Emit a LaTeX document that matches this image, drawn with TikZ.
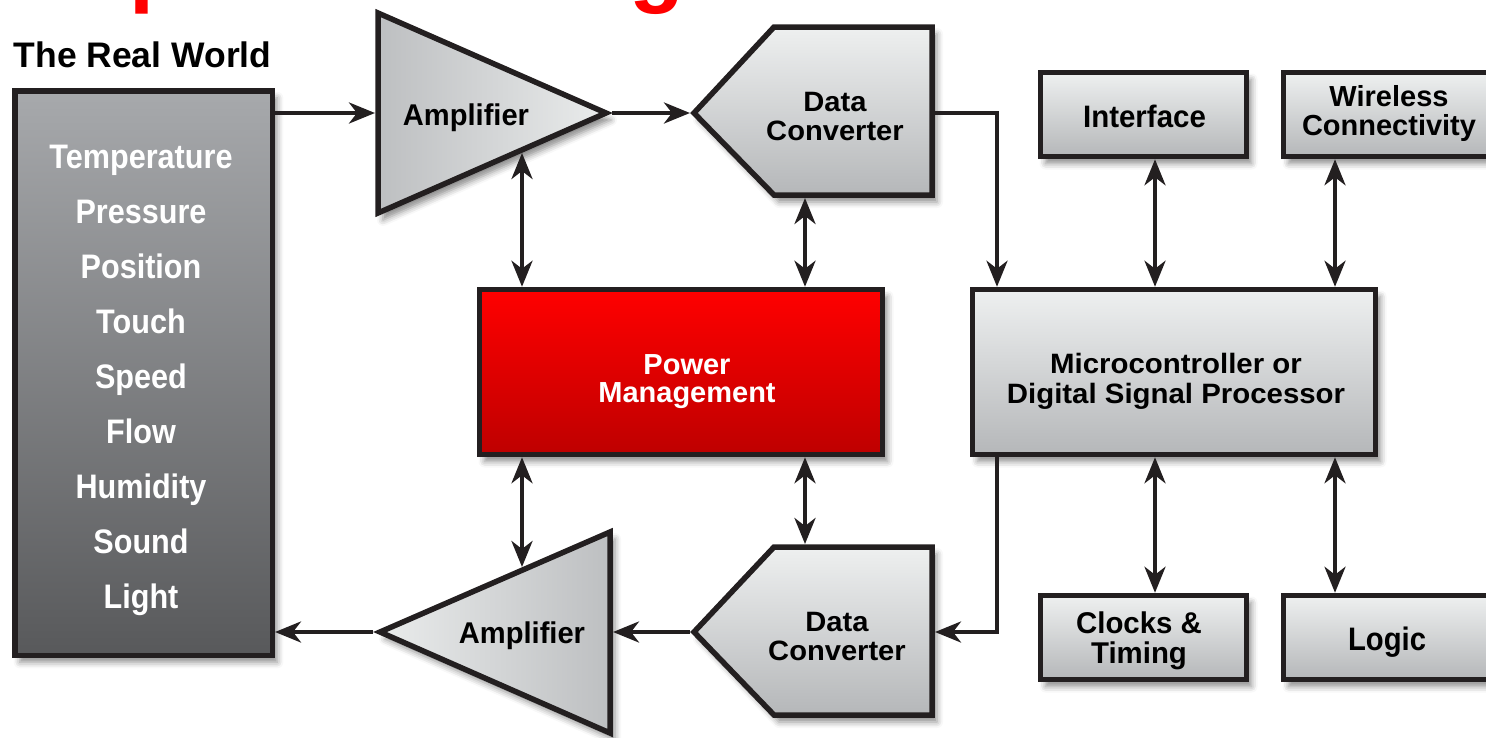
\documentclass[tikz,border=0pt]{standalone}
\usepackage{fontspec}
\setmainfont{Liberation Sans}
\usetikzlibrary{arrows.meta,shadows.blur}

\definecolor{boxtop}{HTML}{EEF0F0}
\definecolor{boxbot}{HTML}{B5B7B9}
\definecolor{amplight}{HTML}{EAECEC}
\definecolor{ampdark}{HTML}{BDBFC1}
\definecolor{rwtop}{HTML}{A7A9AC}
\definecolor{rwbot}{HTML}{58595B}
\definecolor{pmtop}{HTML}{FF0000}
\definecolor{pmbot}{HTML}{BE0000}
\definecolor{edge}{HTML}{231F20}
\definecolor{titlered}{HTML}{FF0000}

% centred block of lines, squeezed or widened horizontally; baseline = first line
\newcommand{\blocktext}[2]{\scalebox{#1}[1]{\begin{tabular}[t]{@{}c@{}}#2\end{tabular}}}
\newcommand{\fs}[2]{\bfseries\fontsize{#1}{#2}\selectfont}

\tikzset{
  txt/.style={anchor=base, inner sep=0pt},
  shade box/.style={draw=edge, line width=5.5pt, line join=miter,
    blur shadow={shadow xshift=5pt, shadow yshift=-7pt,
                 shadow blur radius=6pt, shadow opacity=45}},
  gbox/.style={shade box, top color=boxtop, bottom color=boxbot, inner sep=0pt},
  tip/.tip={Stealth[length=26pt,width=21pt,inset=8pt]},
  conn/.style={draw=edge, line width=4pt, -tip},
  bconn/.style={draw=edge, line width=4pt, tip-tip},
  listitem/.style={txt, text=white, font=\fs{34}{34}},
}

\begin{document}
\begin{tikzpicture}[x=1pt,y=-1pt]
\useasboundingbox (0,0) rectangle (1486,737);

% descenders of the red heading above the frame
\node[anchor=base west, inner sep=0pt, text=titlered, font=\fs{90}{90}] (headp) at (129,-5) {p};
\node[anchor=base west, inner sep=0pt, text=titlered, font=\fs{90}{90}] (headg) at (629,-5) {g};

% the real world
\node[txt, font=\fs{35.5}{36}] (rwtitle) at (142.5,67) {The Real World};
\node[shade box, top color=rwtop, bottom color=rwbot,
      minimum width=257.5pt, minimum height=564.5pt, inner sep=0pt] (rw) at (143.5,373) {};
\foreach \t [count=\i] in {Temperature,Pressure,Position,Touch,Speed,Flow,Humidity,Sound,Light}
  \node[listitem] (rw\i) at (141,113+55*\i) {\scalebox{0.9}[1]{\t}};

% upper amplifier
\coordinate (a1tl) at (378,13);
\coordinate (a1bl) at (378,213);
\coordinate (a1tp) at (606,113);
\path[shade box, left color=ampdark, right color=amplight] (a1tl) -- (a1tp) -- (a1bl) -- cycle;
\node[txt, font=\fs{30}{30}] (amp1) at (466,125) {\blocktext{0.97}{Amplifier}};

% upper data converter
\path[shade box, top color=boxtop, bottom color=boxbot]
  (694,113) -- (774,27) -- (932,27) -- (932,195) -- (774,195) -- cycle;
\node[txt, font=\fs{28}{29.5}] (dc1) at (835,111) {\blocktext{1.04}{Data\\Converter}};

% lower data converter
\path[shade box, top color=boxtop, bottom color=boxbot]
  (694,632) -- (774,547) -- (932,547) -- (932,715) -- (774,715) -- cycle;
\node[txt, font=\fs{28}{29.5}] (dc2) at (837,631) {\blocktext{1.04}{Data\\Converter}};

% lower amplifier
\coordinate (a2tr) at (610,532);
\coordinate (a2br) at (610,733);
\coordinate (a2tp) at (380,632);
\path[shade box, left color=amplight, right color=ampdark] (a2tp) -- (a2tr) -- (a2br) -- cycle;
\node[txt, font=\fs{30}{30}] (amp2) at (522,643) {\blocktext{0.97}{Amplifier}};

% power management and processor
\node[shade box, top color=pmtop, bottom color=pmbot,
      minimum width=403pt, minimum height=165pt, inner sep=0pt] (pm) at (681,372) {};
\node[txt, text=white, font=\fs{29}{27}] (pm-t) at (687,374) {\blocktext{1}{Power\\Management}};
\node[gbox, minimum width=403pt, minimum height=165pt] (mcu) at (1174,372) {};
\node[txt, font=\fs{28}{30}] (mcu-t) at (1176,373)
  {\blocktext{1.05}{Microcontroller or\\Digital Signal Processor}};

% peripheral blocks
\node[gbox, minimum width=206pt, minimum height=84pt] (iface) at (1143.5,114.5) {};
\node[txt, font=\fs{31}{31}] (iface-t) at (1144.5,127.3) {\blocktext{0.95}{Interface}};
\node[gbox, minimum width=210pt, minimum height=84pt] (wless) at (1388.5,114.5) {};
\node[txt, font=\fs{29}{26.6}] (wless-t) at (1389,106.7) {\blocktext{1}{Wireless\\Connectivity}};
\node[gbox, minimum width=206pt, minimum height=84pt] (clk) at (1143.5,637.5) {};
\node[txt, font=\fs{30}{26.7}] (clk-t) at (1139,633.3) {\blocktext{0.98}{Clocks \&\\Timing}};
\node[gbox, minimum width=210pt, minimum height=84pt] (logic) at (1388.5,637.5) {};
\node[txt, font=\fs{32.5}{32.5}] (logic-t) at (1387,650.7) {\blocktext{0.9}{Logic}};

% connection points on the slanted and pointed outlines
\coordinate (a1in)  at (375,113);
\coordinate (a1out) at (612,113);
\coordinate (a1low) at (522,153);
\coordinate (dc1in) at (690,113);
\coordinate (dc1r)  at (935,113);
\coordinate (dc1b)  at (805,198);
\coordinate (dc2t)  at (805,544);
\coordinate (dc2r)  at (935,632);
\coordinate (dc2out) at (690,632);
\coordinate (a2in)  at (613,632);
\coordinate (a2up)  at (522,567);
\coordinate (a2out) at (373,632);
\coordinate (xa) at (522,0);
\coordinate (xb) at (805,0);
\coordinate (xc) at (1155,0);
\coordinate (xd) at (1335,0);
\coordinate (xe) at (997,0);

% signal path
\draw[conn] (rw.east |- a1in) -- (a1in);
\draw[conn] (a1out) -- (dc1in);
\draw[conn] (dc1r) -| (xe |- mcu.north);
\draw[conn] (mcu.south -| xe) |- (dc2r);
\draw[conn] (dc2out) -- (a2in);
\draw[conn] (a2out) -- (rw.east |- a2out);

% power links
\draw[bconn] (a1low) -- (pm.north -| xa);
\draw[bconn] (dc1b) -- (pm.north -| xb);
\draw[bconn] (pm.south -| xa) -- (a2up);
\draw[bconn] (pm.south -| xb) -- (dc2t);

% processor links
\draw[bconn] (iface.south -| xc) -- (mcu.north -| xc);
\draw[bconn] (wless.south -| xd) -- (mcu.north -| xd);
\draw[bconn] (mcu.south -| xc) -- (clk.north -| xc);
\draw[bconn] (mcu.south -| xd) -- (logic.north -| xd);
\end{tikzpicture}
\end{document}
